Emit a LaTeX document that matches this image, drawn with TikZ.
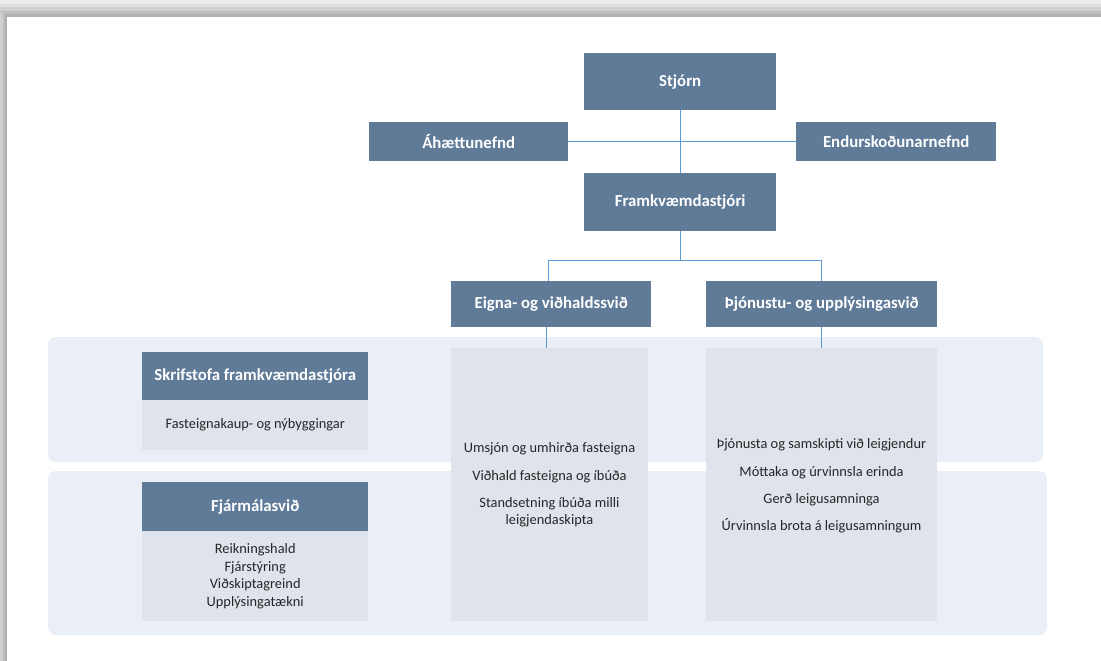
\documentclass[tikz,border=0pt]{standalone}
\usepackage{fontspec}
\setmainfont{Carlito}
\definecolor{headfill}{RGB}{95,123,152}
\definecolor{bandfill}{RGB}{234,238,247}
\definecolor{colfill}{RGB}{223,227,236}
\definecolor{linecol}{RGB}{91,155,213}
\definecolor{bodytext}{RGB}{38,38,38}
\definecolor{sh1}{RGB}{236,236,236}
\definecolor{sh2}{RGB}{224,224,224}
\definecolor{sh3}{RGB}{207,207,207}
\definecolor{sh4}{RGB}{190,190,190}
\definecolor{sh5}{RGB}{176,176,176}
\tikzset{
  head/.style={rectangle, fill=headfill, text=white, anchor=north west, inner sep=0pt,
    font=\bfseries\fontsize{16.8}{20}\selectfont},
  bodybox/.style={rectangle, fill=colfill, anchor=north west, inner sep=0pt},
  band/.style={fill=bandfill, rounded corners=8pt},
  bodytxt/.style={text=bodytext, align=center, inner sep=0pt,
    font=\fontsize{14.4}{17.6}\selectfont},
  conn/.style={draw=linecol, line width=1.1pt},
}
\begin{document}
\begin{tikzpicture}[x=1pt,y=-1pt]
\useasboundingbox (0,0) rectangle (1101,661);
% page and frame shadow
\fill[white] (0,0) rectangle (1101,661);
\fill[sh1] (0,0) rectangle (1101,4);
\fill[sh2] (0,4) rectangle (1101,7);
\fill[sh3] (0,7) rectangle (1101,11);
\fill[sh4] (0,11) rectangle (1101,14);
\fill[sh5] (0,14) rectangle (1101,17);
\fill[sh3] (0,12) rectangle (2.5,661);
\fill[sh4] (2.5,14) rectangle (5,661);
\fill[sh5] (5,16) rectangle (7,661);
% bands
\fill[band] (48,337) rectangle (1043,462);
\fill[band] (48,471) rectangle (1047,635);
% top hierarchy
\node[head, minimum width=192pt, minimum height=57pt] (S) at (584,53) {Stjórn};
\node[head, minimum width=199pt, minimum height=39pt] (A) at (369,122) {Áhættunefnd};
\node[head, minimum width=200pt, minimum height=39pt] (E) at (796,122) {Endurskoðunarnefnd};
\node[head, minimum width=192pt, minimum height=58pt] (F) at (584,173) {Framkvæmdastjóri};
\node[head, minimum width=200pt, minimum height=46pt] (EV) at (451,281) {Eigna- og viðhaldssvið};
\node[head, minimum width=231pt, minimum height=46pt] (TJ) at (706,281) {Þjónustu- og upplýsingasvið};
% columns
\node[bodybox, minimum width=197pt, minimum height=273pt] (C1) at (451,348) {};
\node[bodybox, minimum width=231pt, minimum height=273pt] (C2) at (706,348) {};
\node[bodytxt] (C1t) at (549.5,485) {Umsjón og umhirða fasteigna\\[10.4pt]Viðhald fasteigna og íbúða\\[8.6pt]Standsetning íbúða milli\\leigjendaskipta};
\node[bodytxt] (C2t) at (821.5,486) {Þjónusta og samskipti við leigjendur\\[9.7pt]Móttaka og úrvinnsla erinda\\[9.7pt]Gerð leigusamninga\\[9.7pt]Úrvinnsla brota á leigusamningum};
% left units
\node[head, minimum width=226pt, minimum height=48pt] (SK) at (142,352) {Skrifstofa framkvæmdastjóra};
\node[bodybox, minimum width=226pt, minimum height=50pt] (SKb) at (142,400) {};
\node[bodytxt] (SKt) at (SKb.center) {Fasteignakaup- og nýbyggingar};
\node[head, minimum width=226pt, minimum height=49pt] (FJ) at (142,482) {Fjármálasvið};
\node[bodybox, minimum width=226pt, minimum height=90pt] (FJb) at (142,531) {};
\node[bodytxt] (FJt) at (FJb.center) {Reikningshald\\Fjárstýring\\Viðskiptagreind\\Upplýsingatækni};
% connectors
\draw[conn] (S.south) -- (F.north);
\draw[conn] (A.east) -- (E.west);
\draw[conn] (F.south) -- ++(0,29) -| ([xshift=-3pt]EV.north);
\draw[conn] (F.south) ++(0,29) -| (TJ.north);
\draw[conn] ([xshift=-5pt]EV.south) -- ([xshift=-5pt]EV.south |- C1.north);
\draw[conn] (TJ.south) -- (TJ.south |- C2.north);
\end{tikzpicture}
\end{document}
